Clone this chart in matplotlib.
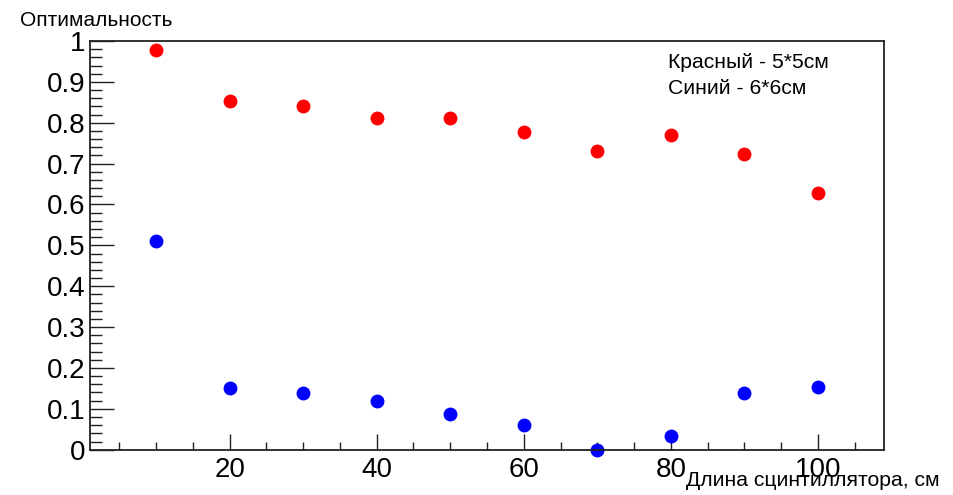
import matplotlib
matplotlib.use('Agg')
import matplotlib.pyplot as plt
from matplotlib.ticker import MultipleLocator

plt.rcParams['font.family'] = ['Liberation Sans', 'DejaVu Sans']

# scintillator length, cm
length = [10, 20, 30, 40, 50, 60, 70, 80, 90, 100]
# optimality values
red_5x5 = [0.978, 0.853, 0.840, 0.811, 0.811, 0.777, 0.731, 0.769, 0.723, 0.628]
blue_6x6 = [0.510, 0.150, 0.138, 0.119, 0.087, 0.061, 0.0, 0.033, 0.138, 0.153]

y_ticks = [0, 0.1, 0.2, 0.3, 0.4, 0.5, 0.6, 0.7, 0.8, 0.9, 1.0]
y_labels = ['0', '0.1', '0.2', '0.3', '0.4', '0.5', '0.6', '0.7', '0.8', '0.9', '1']
x_ticks = [20, 40, 60, 80, 100]
x_labels = ['20', '40', '60', '80', '100']

W, H = 954, 495
fig = plt.figure(figsize=(W / 100, H / 100), dpi=100)
ax = fig.add_axes([90 / W, 1 - 449.7 / H, (884 - 90) / W, (449.7 - 41) / H])

ax.plot(length, red_5x5, 'o', color='#ff0000', markersize=10, markeredgewidth=0, clip_on=False)
ax.plot(length, blue_6x6, 'o', color='#0000ff', markersize=10, markeredgewidth=0, clip_on=False)

ax.set_xlim(1, 109)
ax.set_ylim(0, 1)

ax.set_xticks(x_ticks)
ax.set_xticklabels(x_labels)
ax.xaxis.set_minor_locator(MultipleLocator(5))
ax.set_yticks(y_ticks)
ax.set_yticklabels(y_labels)
ax.yaxis.set_minor_locator(MultipleLocator(0.02))

ax.tick_params(axis='both', which='both', direction='in', width=1.0, colors='#222222',
               labelcolor='black', labelsize=20, top=False, right=False)
ax.tick_params(axis='y', which='major', length=17, pad=3)
ax.tick_params(axis='y', which='minor', length=8.5)
ax.tick_params(axis='x', which='major', length=11.5, pad=5)
ax.tick_params(axis='x', which='minor', length=5.8)

for s in ax.spines.values():
    s.set_linewidth(1.3)
    s.set_color('#222222')

fig.text(20 / W, 1 - 20 / H, 'Оптимальность', fontsize=15, ha='left', va='center')
fig.text(940 / W, 1 - 480 / H, 'Длина сцинтиллятора, см', fontsize=15.2, ha='right', va='center')
fig.text(668 / W, 1 - 63 / H, 'Красный - 5*5см', fontsize=15.2, ha='left', va='center')
fig.text(668 / W, 1 - 89 / H, 'Синий - 6*6см', fontsize=15.2, ha='left', va='center')

fig.savefig('out.png', dpi=100)
